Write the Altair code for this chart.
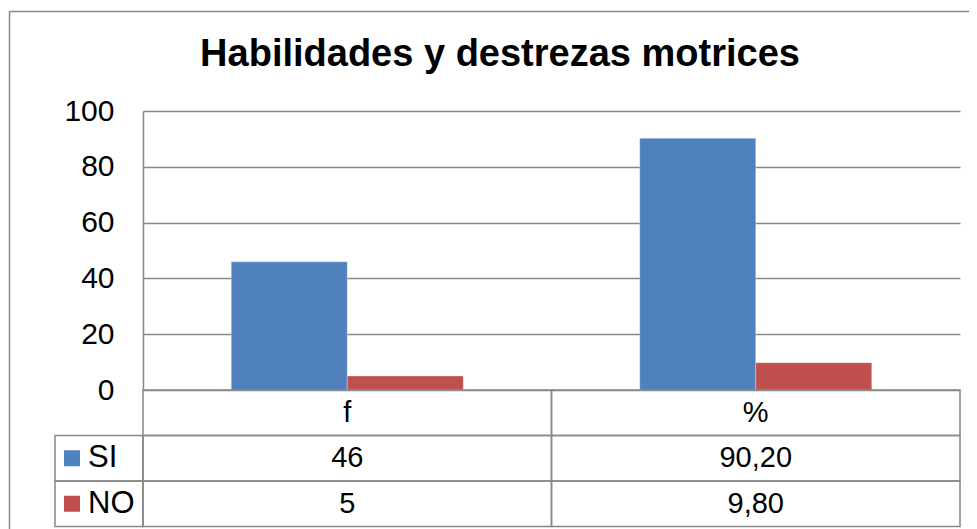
import altair as alt
import pandas as pd

# ---- data ----
title_text = "Habilidades y destrezas motrices"
categories = ["f", "%"]
series = ["SI", "NO"]
si_values = [46, 90.2]
no_values = [5, 9.8]
y_ticks = [0, 20, 40, 60, 80, 100]
colors = ["#4F81BD", "#C0504D"]
table_rows = ["header", "SI", "NO"]

FONT = "Liberation Sans, Arial"
GRAY = "#878787"


def fmt(cat, v):
    s = f"{v:.0f}" if cat == "f" else f"{v:.2f}"
    return s.replace(".", ",")


bars_df = pd.DataFrame(
    [{"category": c, "series": "SI", "value": v} for c, v in zip(categories, si_values)]
    + [{"category": c, "series": "NO", "value": v} for c, v in zip(categories, no_values)]
)

table_df = pd.DataFrame(
    [{"col": c, "row": "header", "text": c} for c in categories]
    + [{"col": c, "row": "SI", "text": fmt(c, v)} for c, v in zip(categories, si_values)]
    + [{"col": c, "row": "NO", "text": fmt(c, v)} for c, v in zip(categories, no_values)]
)

legend_df = pd.DataFrame({"lc": ["leg"] * len(series), "row": series, "series": series})
title_df = pd.DataFrame({"t": [title_text]})

W, H = 817, 279
TABLE_RANGE = [279, 415.5]

row_scale = alt.Scale(domain=table_rows, range=TABLE_RANGE, paddingInner=0, paddingOuter=0)
col_scale = alt.Scale(domain=categories, paddingInner=0, paddingOuter=0)
leg_scale = alt.Scale(domain=["leg"], range=[-88, 0], paddingInner=0, paddingOuter=0)
color_scale = alt.Scale(domain=series, range=colors)

bars = alt.Chart(bars_df).mark_bar(stroke="white", strokeOpacity=0.3, strokeWidth=1).encode(
    x=alt.X("category:N", sort=categories,
            scale=alt.Scale(domain=categories, paddingInner=0.432, paddingOuter=0.216),
            axis=None),
    xOffset=alt.XOffset("series:N", sort=series, scale=alt.Scale(domain=series)),
    y=alt.Y("value:Q", scale=alt.Scale(domain=[0, 100]),
            axis=alt.Axis(values=y_ticks, title=None, grid=True, gridColor=GRAY, gridWidth=1.5,
                          ticks=False, tickSize=0, labelPadding=29, labelFontSize=30,
                          labelFont=FONT, labelColor="black", domainColor=GRAY,
                          domainWidth=1.5)),
    color=alt.Color("series:N", scale=color_scale, legend=None),
)

cells = alt.Chart(table_df).mark_rect(fillOpacity=0, stroke=GRAY, strokeWidth=1.5).encode(
    x=alt.X("col:N", scale=col_scale, axis=None),
    y=alt.Y("row:N", scale=row_scale, axis=None),
)

cell_text = alt.Chart(table_df).mark_text(fontSize=29, font=FONT, color="black",
                                          baseline="middle", align="center").encode(
    x=alt.X("col:N", scale=col_scale, axis=None),
    y=alt.Y("row:N", scale=row_scale, axis=None),
    text="text:N",
)

leg_cells = alt.Chart(legend_df).mark_rect(fillOpacity=0, stroke=GRAY, strokeWidth=1.5).encode(
    x=alt.X("lc:N", scale=leg_scale, axis=None),
    y=alt.Y("row:N", scale=row_scale, axis=None),
)

leg_squares = alt.Chart(legend_df).mark_square(size=256, opacity=1, xOffset=-27).encode(
    x=alt.X("lc:N", scale=leg_scale, axis=None),
    y=alt.Y("row:N", scale=row_scale, axis=None),
    color=alt.Color("series:N", scale=color_scale, legend=None),
)

leg_text = alt.Chart(legend_df).mark_text(fontSize=31, font=FONT, color="black", align="left",
                                          baseline="middle", dx=-11).encode(
    x=alt.X("lc:N", scale=leg_scale, axis=None),
    y=alt.Y("row:N", scale=row_scale, axis=None),
    text="series:N",
)

title = alt.Chart(title_df).mark_text(fontSize=38, font=FONT, fontWeight="bold", color="black",
                                      align="center", baseline="alphabetic").encode(
    x=alt.value(357), y=alt.value(-45), text="t:N",
)

frame_left = alt.Chart(title_df).mark_rule(color=GRAY, strokeWidth=1.5).encode(
    x=alt.value(-133.5), y=alt.value(-99.5), y2=alt.value(425),
)
frame_top = alt.Chart(title_df).mark_rule(color=GRAY, strokeWidth=1.5).encode(
    x=alt.value(-133.5), x2=alt.value(840), y=alt.value(-99.5),
)

chart = alt.layer(
    bars, cells, leg_cells, cell_text, leg_squares, leg_text, title, frame_left, frame_top
).resolve_scale(
    x="independent", y="independent"
).properties(
    width=W, height=H,
    autosize=alt.AutoSizeParams(type="none"),
    padding={"left": 135, "top": 103, "right": 9, "bottom": 139},
    background="white",
).configure_view(stroke=None)

chart.save("out.html", embed_options={"renderer": "svg", "actions": False})
